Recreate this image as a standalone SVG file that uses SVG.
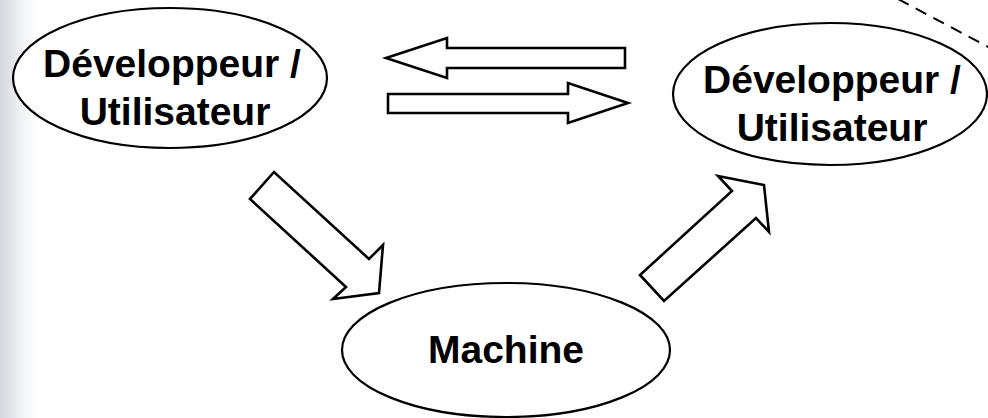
<svg xmlns="http://www.w3.org/2000/svg" width="988" height="418" viewBox="0 0 988 418">
  <defs>
    <linearGradient id="edge" x1="0" y1="0" x2="1" y2="0">
      <stop offset="0" stop-color="#d2d5dc"/>
      <stop offset="0.4" stop-color="#eceef1"/>
      <stop offset="1" stop-color="#ffffff" stop-opacity="0"/>
    </linearGradient>
    <style>
      .node ellipse { fill: #ffffff; stroke: #000000; stroke-width: 2.2; }
      .label { font-family: "Liberation Sans", Arial, sans-serif; font-weight: bold; font-size: 39px; fill: #000000; text-anchor: middle; }
      .arrow { fill: #ffffff; stroke: #000000; stroke-width: 2.6; stroke-linejoin: miter; }
      .dash { fill: none; stroke: #000000; stroke-width: 2; stroke-dasharray: 12 8; }
    </style>
  </defs>
  <rect x="0" y="0" width="988" height="418" fill="#ffffff"/>
  <rect x="0" y="0" width="45" height="418" fill="url(#edge)"/>

  <line class="dash" x1="898" y1="-1" x2="992" y2="49"/>

  <g id="connectors">
    <polygon class="arrow" points="386,58 447,38 447,48 625,48 625,68 447,68 447,78"/>
    <polygon class="arrow" points="388,94 568,94 568,83 628,103 568,123 568,113 388,113"/>
    <polygon class="arrow" points="274,172 250,199 346,287 333,299 379,293 383,245 369,259"/>
    <polygon class="arrow" points="640,275 664,301 756,218 769,232 764,185 718,176 732,191"/>
  </g>

  <g id="node-dev-left" class="node">
    <ellipse cx="170" cy="78" rx="157" ry="70"/>
    <text class="label" x="172" y="77">Développeur /</text>
    <text class="label" x="175" y="125">Utilisateur</text>
  </g>

  <g id="node-dev-right" class="node">
    <ellipse cx="830" cy="94" rx="157" ry="71"/>
    <text class="label" x="832" y="93">Développeur /</text>
    <text class="label" x="832" y="141">Utilisateur</text>
  </g>

  <g id="node-machine" class="node">
    <ellipse cx="506" cy="350" rx="164" ry="67"/>
    <text class="label" x="506" y="363">Machine</text>
  </g>
</svg>
